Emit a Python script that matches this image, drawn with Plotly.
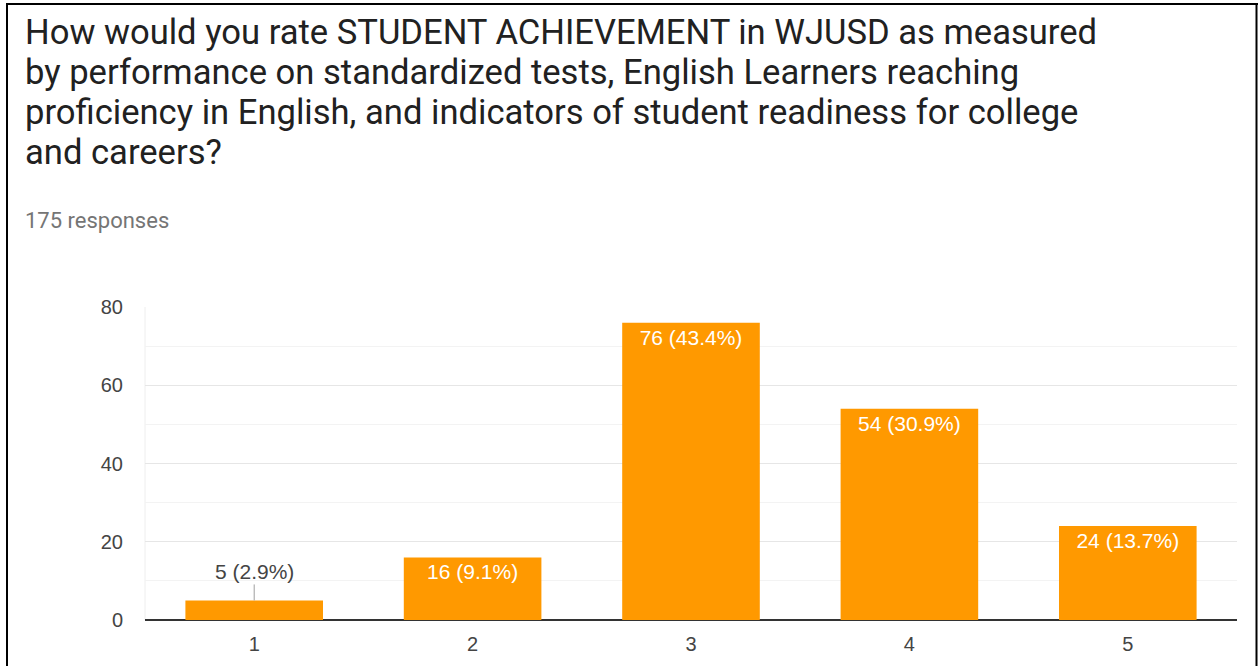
import plotly.graph_objects as go

categories = ["1", "2", "3", "4", "5"]
counts = [5, 16, 76, 54, 24]
pct_labels = ["2.9%", "9.1%", "43.4%", "30.9%", "13.7%"]
title_lines = [
    "How would you rate STUDENT ACHIEVEMENT in WJUSD as measured",
    "by performance on standardized tests, English Learners reaching",
    "proficiency in English, and indicators of student readiness for college",
    "and careers?",
]
subtitle = "175 responses"
y_ticks = [0, 20, 40, 60, 80]

W, H = 1258, 666
L, R, T, B = 145, 1237, 307, 620
CHART_FONT = "Liberation Sans, Arial, sans-serif"

def px(xp):
    return (xp - L) / (R - L)

def py(yp):
    return (B - yp) / (B - T)

labels = [f"{c} ({p})" for c, p in zip(counts, pct_labels)]
inside_text = ["" if c < 10 else t for c, t in zip(counts, labels)]

fig = go.Figure()
fig.add_trace(go.Bar(
    x=categories, y=counts, width=0.63,
    marker=dict(color="#ff9900", line=dict(width=0)),
    text=inside_text, textposition="inside", insidetextanchor="end",
    textangle=0,
    textfont=dict(color="#ffffff", size=21, family=CHART_FONT),
    hoverinfo="skip",
))

annotations = []
for i, (cnt, t) in enumerate(zip(counts, labels)):
    if cnt < 10:
        annotations.append(dict(
            x=i, y=cnt, xref="x", yref="y", text=t,
            showarrow=True, arrowhead=0, arrowwidth=1, arrowcolor="#9e9e9e",
            ax=0, ay=-29, standoff=0,
            font=dict(color="#444444", size=21, family=CHART_FONT),
        ))

line_y = [32, 72, 112, 152]
for ln, yy in zip(title_lines, line_y):
    annotations.append(dict(
        x=px(23), y=py(yy), xref="paper", yref="paper", text=ln,
        showarrow=False, xanchor="left", yanchor="middle",
        font=dict(color="#212121", size=34.6, family="Roboto"),
    ))
annotations.append(dict(
    x=px(23), y=py(220), xref="paper", yref="paper", text=subtitle,
    showarrow=False, xanchor="left", yanchor="middle",
    font=dict(color="#757575", size=22, family="Roboto"),
))

shapes = [
    dict(type="line", xref="paper", yref="paper", x0=px(7), x1=px(7), y0=py(3), y1=py(700),
         line=dict(color="#000000", width=2)),
    dict(type="line", xref="paper", yref="paper", x0=px(6), x1=px(1258), y0=py(4), y1=py(4),
         line=dict(color="#000000", width=2)),
    dict(type="line", xref="paper", yref="paper", x0=px(1256.5), x1=px(1256.5), y0=py(3), y1=py(700),
         line=dict(color="#000000", width=2)),
    dict(type="line", xref="paper", yref="paper", x0=0, x1=0, y0=0, y1=1,
         line=dict(color="#eeeeee", width=1), layer="below"),
]

fig.update_layout(
    width=W, height=H,
    margin=dict(l=L, r=W - R, t=T, b=H - B, pad=0),
    paper_bgcolor="#ffffff", plot_bgcolor="#ffffff",
    showlegend=False,
    font=dict(family=CHART_FONT, color="#444444"),
    annotations=annotations,
    shapes=shapes,
    xaxis=dict(
        type="category", range=[-0.5, 4.5], showgrid=False, zeroline=False,
        showline=False, ticks="", tickfont=dict(size=20, color="#444444"),
        ticklabelstandoff=10,
    ),
    yaxis=dict(
        range=[0, 80], tickvals=y_ticks, showgrid=True, gridcolor="#e6e6e6",
        gridwidth=1, zeroline=True, zerolinecolor="#333333", zerolinewidth=2,
        showline=False, ticks="", tickfont=dict(size=20, color="#444444"),
        ticklabelstandoff=21,
        minor=dict(dtick=10, showgrid=True, gridcolor="#f3f3f3", gridwidth=1),
    ),
)

fig.write_html(
    "out.html",
    config={"displayModeBar": False},
    post_script="document.body.style.margin='0';document.body.style.overflow='hidden';",
)
